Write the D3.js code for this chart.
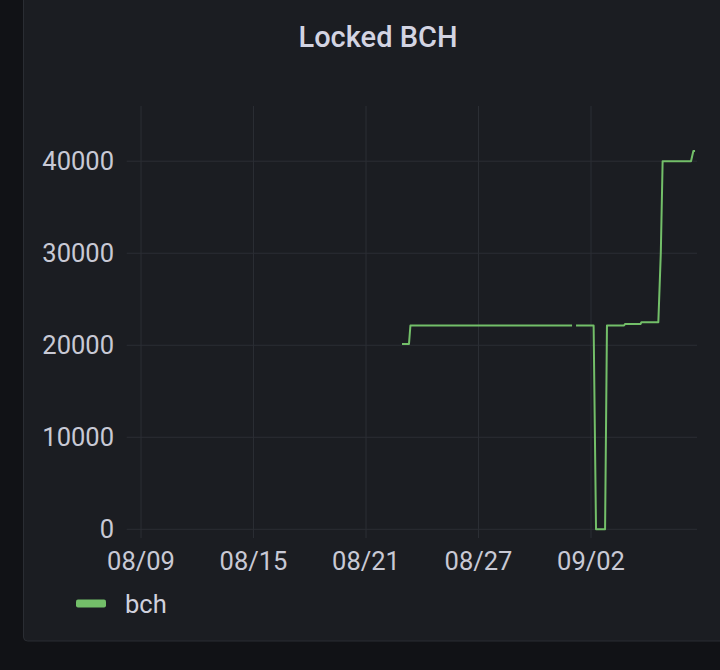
<!DOCTYPE html>
<html>
<head>
<meta charset="utf-8">
<script src="https://cdn.jsdelivr.net/npm/d3@7"></script>
<style>
  html, body { margin: 0; padding: 0; background: #111216; }
  svg { display: block; }
</style>
</head>
<body>
<svg id="chart" width="720" height="670"></svg>
<script>
// series, null = gap in the data
var times = [
  "2021-08-22T22:05", "2021-08-23T07:00", "2021-08-23T08:50", "2021-08-31T23:45",
  "2021-09-01T02:00", "2021-09-01T04:50", "2021-09-02T03:20", "2021-09-02T06:25",
  "2021-09-02T18:00", "2021-09-02T20:25", "2021-09-03T18:15", "2021-09-03T19:30",
  "2021-09-04T15:20", "2021-09-04T16:30", "2021-09-05T14:10", "2021-09-05T17:20",
  "2021-09-05T19:40", "2021-09-07T08:00", "2021-09-07T11:00", "2021-09-07T13:10"
];
var bch = [
  20150, 20150, 22150, 22150,
  null, 22150, 22150, 0,
  0, 22150, 22150, 22300,
  22300, 22500, 22500, 30000,
  40000, 40000, 41100, 41100
];
var xTicks = ["2021-08-09", "2021-08-15", "2021-08-21", "2021-08-27", "2021-09-02"];
var yTicks = [0, 10000, 20000, 30000, 40000];
var xDomain = ["2021-08-08T05:40", "2021-09-07T15:40"];
var yDomain = [0, 46000];

var parse = d3.timeParse("%Y-%m-%dT%H:%M");
var parseDay = d3.timeParse("%Y-%m-%d");
var data = times.map((t, i) => ({ date: parse(t), value: bch[i] }));

var svg = d3.select("#chart");
var font = "Roboto, 'DejaVu Sans', sans-serif";

// panel
svg.append("rect")
  .attr("x", 23.5).attr("y", -6)
  .attr("width", 720).attr("height", 647)
  .attr("rx", 4)
  .attr("fill", "#1b1d22")
  .attr("stroke", "#2a2d33");

svg.append("text")
  .attr("x", 378).attr("y", 47)
  .attr("text-anchor", "middle")
  .attr("font-family", font)
  .attr("font-weight", 500)
  .attr("font-size", 29)
  .attr("fill", "#d3d4e2")
  .text("Locked BCH");

var x = d3.scaleTime()
  .domain(xDomain.map(parse))
  .range([126.7, 697]);

var y = d3.scaleLinear()
  .domain(yDomain)
  .range([529.3, 106]);

// grid
svg.append("g")
  .selectAll("line")
  .data(xTicks.map(parseDay))
  .join("line")
    .attr("x1", d => x(d)).attr("x2", d => x(d))
    .attr("y1", y(yDomain[1])).attr("y2", 538)
    .attr("stroke", "#2b2e34");

svg.append("g")
  .selectAll("line")
  .data(yTicks)
  .join("line")
    .attr("x1", x.range()[0]).attr("x2", x.range()[1])
    .attr("y1", d => y(d)).attr("y2", d => y(d))
    .attr("stroke", "#2b2e34");

// axes labels
svg.append("g")
  .attr("font-family", font)
  .attr("font-size", 25.5)
  .attr("fill", "#c8c9d5")
  .attr("text-anchor", "end")
  .selectAll("text")
  .data(yTicks)
  .join("text")
    .attr("x", 114)
    .attr("y", d => y(d))
    .attr("dy", "0.36em")
    .text(d => d);

svg.append("g")
  .attr("font-family", font)
  .attr("font-size", 25.5)
  .attr("fill", "#c8c9d5")
  .attr("text-anchor", "middle")
  .selectAll("text")
  .data(xTicks.map(parseDay))
  .join("text")
    .attr("x", d => x(d))
    .attr("y", 570)
    .text(d => d3.timeFormat("%m/%d")(d));

// series
var line = d3.line()
  .defined(d => d.value !== null)
  .x(d => x(d.date))
  .y(d => y(d.value));

svg.append("path")
  .datum(data)
  .attr("fill", "none")
  .attr("stroke", "#73bf69")
  .attr("stroke-width", 2)
  .attr("stroke-linejoin", "round")
  .attr("d", line);

// legend
svg.append("rect")
  .attr("x", 76).attr("y", 599.5)
  .attr("width", 30).attr("height", 8)
  .attr("rx", 2)
  .attr("fill", "#73bf69");

svg.append("text")
  .attr("x", 125).attr("y", 613)
  .attr("font-family", font)
  .attr("font-size", 25.5)
  .attr("fill", "#d0d1dd")
  .text("bch");
</script>
</body>
</html>
